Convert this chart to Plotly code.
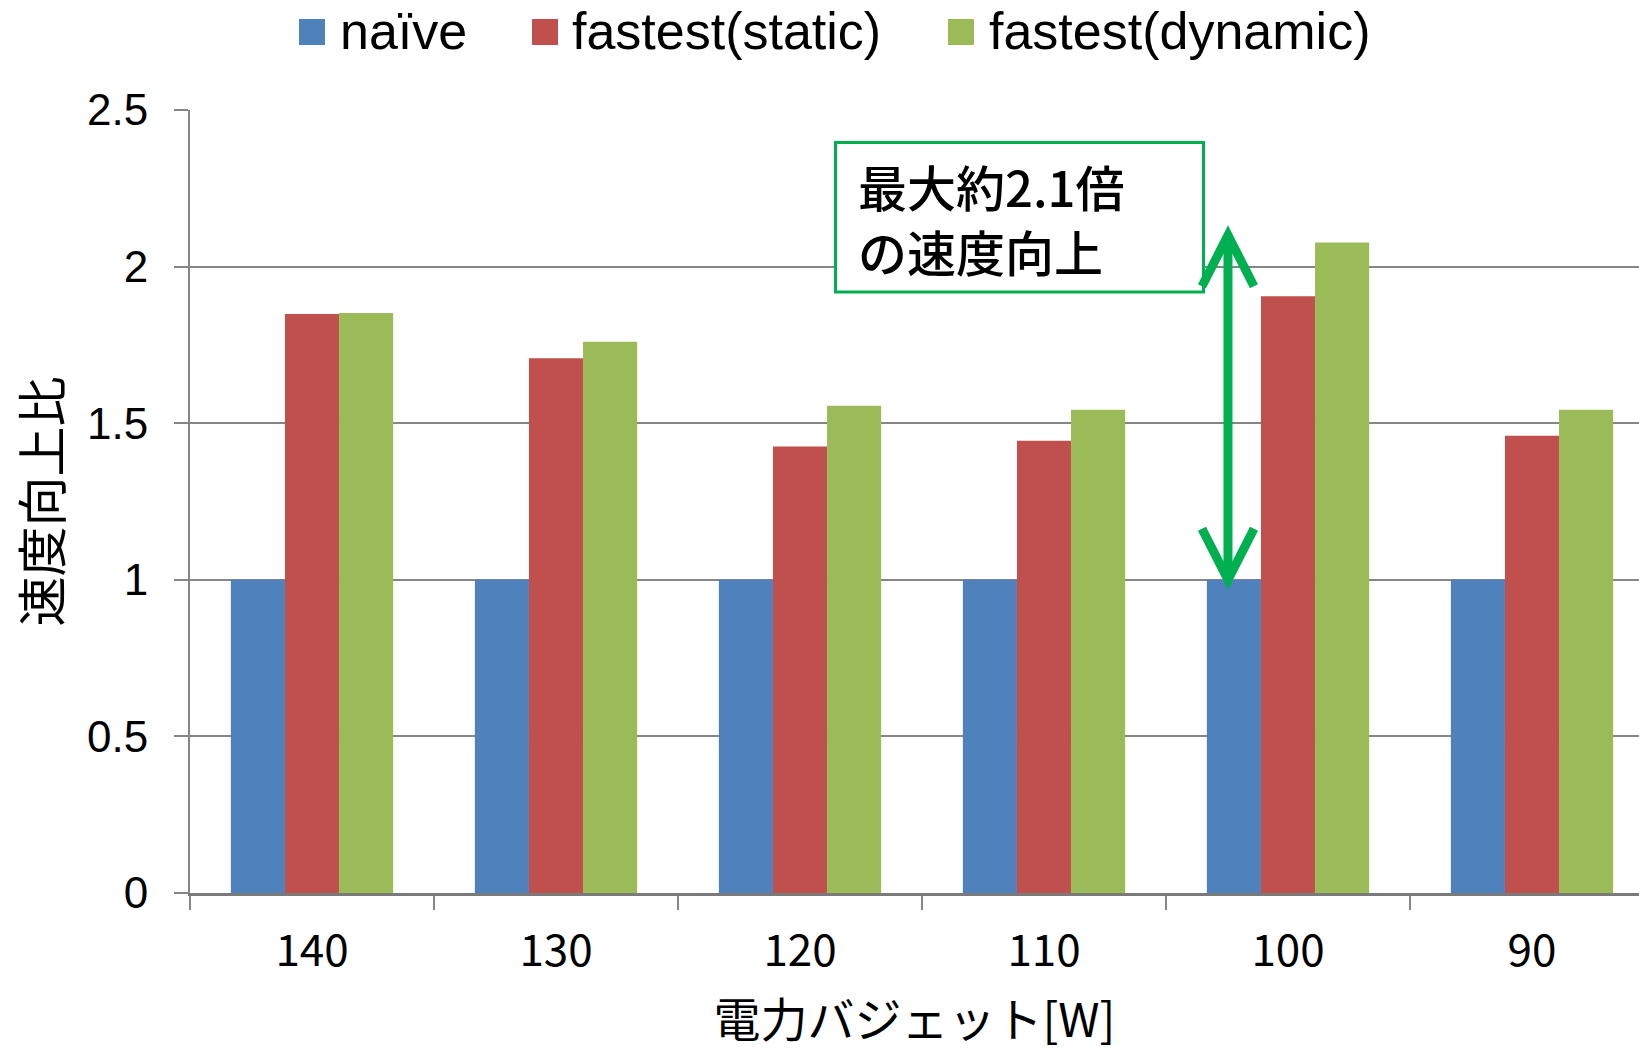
import plotly.graph_objects as go

categories = ["140", "130", "120", "110", "100", "90"]
naive = [1, 1, 1, 1, 1, 1]
fastest_static = [1.849, 1.707, 1.426, 1.444, 1.905, 1.460]
fastest_dynamic = [1.852, 1.760, 1.556, 1.543, 2.077, 1.543]
series_names = ["naïve", "fastest(static)", "fastest(dynamic)"]
colors = ["#4F81BD", "#C0504D", "#9BBB59"]
y_ticks = [0, 0.5, 1, 1.5, 2, 2.5]
y_ticktext = ["0", "0.5", "1", "1.5", "2", "2.5"]
max_speedup = 2.1
note_lines = ["最大約2.1倍", "の速度向上"]

W, H = 1639, 1051
ML, MR, MT, MB = 190, 0, 110, 158
PW = W - ML - MR
PH = H - MT - MB
CAT_PX = 244.0
x_range = [-0.5, -0.5 + PW / CAT_PX]

def px_x(px):
    return (px - ML) / PW

def px_y(py):
    return (H - MB - py) / PH

def dx(px):
    return px / CAT_PX

def dy(px):
    return px / PH * 2.5

xs = list(range(len(categories)))
fig = go.Figure()
for name, vals, col in zip(series_names, [naive, fastest_static, fastest_dynamic], colors):
    fig.add_trace(go.Bar(x=xs, y=vals, name=name, marker=dict(color=col, line=dict(width=0)),
                         showlegend=False))

grid = "#868686"
fig.update_layout(
    width=W, height=H,
    margin=dict(l=ML, r=MR, t=MT, b=MB),
    plot_bgcolor="white", paper_bgcolor="white",
    barmode="group", bargap=0.335, bargroupgap=0,
    font=dict(family="Liberation Sans, Arial, sans-serif", color="black"),
    xaxis=dict(
        range=x_range, tickmode="array", tickvals=xs, ticktext=categories,
        ticks="", showgrid=False, zeroline=False,
        showline=True, linecolor="#7a7a7a", linewidth=3,
        tickfont=dict(family="Noto Sans CJK JP", size=44, color="black"),
        ticklabelstandoff=17,
        minor=dict(tickmode="array", tickvals=[i - 0.5 for i in xs], ticks="outside",
                   ticklen=14, tickcolor=grid, tickwidth=1.5, showgrid=False),
        title=dict(text="電力バジェット[W]", font=dict(family="Noto Sans CJK JP", size=47, color="black"),
                   standoff=27),
    ),
    yaxis=dict(
        range=[0, 2.5], tickmode="array", tickvals=y_ticks, ticktext=y_ticktext,
        ticks="outside", ticklen=14, tickcolor=grid, tickwidth=1.5,
        showgrid=True, gridcolor=grid, gridwidth=1.5, zeroline=False,
        showline=True, linecolor=grid, linewidth=2,
        tickfont=dict(family="Liberation Sans, Arial", size=44, color="black"),
        ticklabelstandoff=17,
        title=dict(text="速度向上比", font=dict(family="Noto Sans CJK JP", size=50, color="black"),
                   standoff=10),
    ),
)

shapes = []
annotations = []

# custom legend (large square swatches)
legend_pos = [(299, 338), (532, 570), (948, 987)]
for (sq_x, tx_x), name, col in zip(legend_pos, series_names, colors):
    shapes.append(dict(type="rect", xref="paper", yref="paper",
                       x0=px_x(sq_x), x1=px_x(sq_x + 26), y0=px_y(45), y1=px_y(19),
                       fillcolor=col, line=dict(width=0)))
    annotations.append(dict(xref="paper", yref="paper", x=px_x(tx_x), y=px_y(31),
                            xanchor="left", yanchor="middle", showarrow=False, text=name,
                            font=dict(family="Liberation Sans, Arial", size=52, color="black")))

# note box
green = "#00B050"
shapes.append(dict(type="rect", xref="paper", yref="paper", layer="above",
                   x0=px_x(835.5), x1=px_x(1203.5), y0=px_y(292), y1=px_y(142.5),
                   fillcolor="white", line=dict(color=green, width=3)))
for line_text, cy in zip(note_lines, [186, 251]):
    annotations.append(dict(xref="paper", yref="paper", x=px_x(857), y=px_y(cy),
                            xanchor="left", yanchor="middle", align="left", showarrow=False,
                            text=line_text, borderpad=0,
                            font=dict(family="Noto Sans CJK JP", size=49, color="black",
                                      weight=500)))

# double arrow from naive (1.0) to max speedup
ax = 4 - 0.246
hw, hl = dx(26), dy(51)
lo, hi = naive[4], max_speedup
shapes.append(dict(type="line", xref="x", yref="y", x0=ax, x1=ax, y0=lo + dy(3), y1=hi - dy(3),
                   line=dict(color=green, width=9), layer="above"))
shapes.append(dict(type="path", xref="x", yref="y", layer="above",
                   path=f"M{ax-hw},{hi-hl} L{ax},{hi} L{ax+hw},{hi-hl}",
                   line=dict(color=green, width=9)))
shapes.append(dict(type="path", xref="x", yref="y", layer="above",
                   path=f"M{ax-hw},{lo+hl} L{ax},{lo} L{ax+hw},{lo+hl}",
                   line=dict(color=green, width=9)))

fig.update_layout(shapes=shapes, annotations=annotations)
fig.write_html("out.html", config={"displayModeBar": False},
               post_script="document.body.style.margin='0';document.body.style.padding='0';"
                           "document.body.style.overflow='hidden';")
